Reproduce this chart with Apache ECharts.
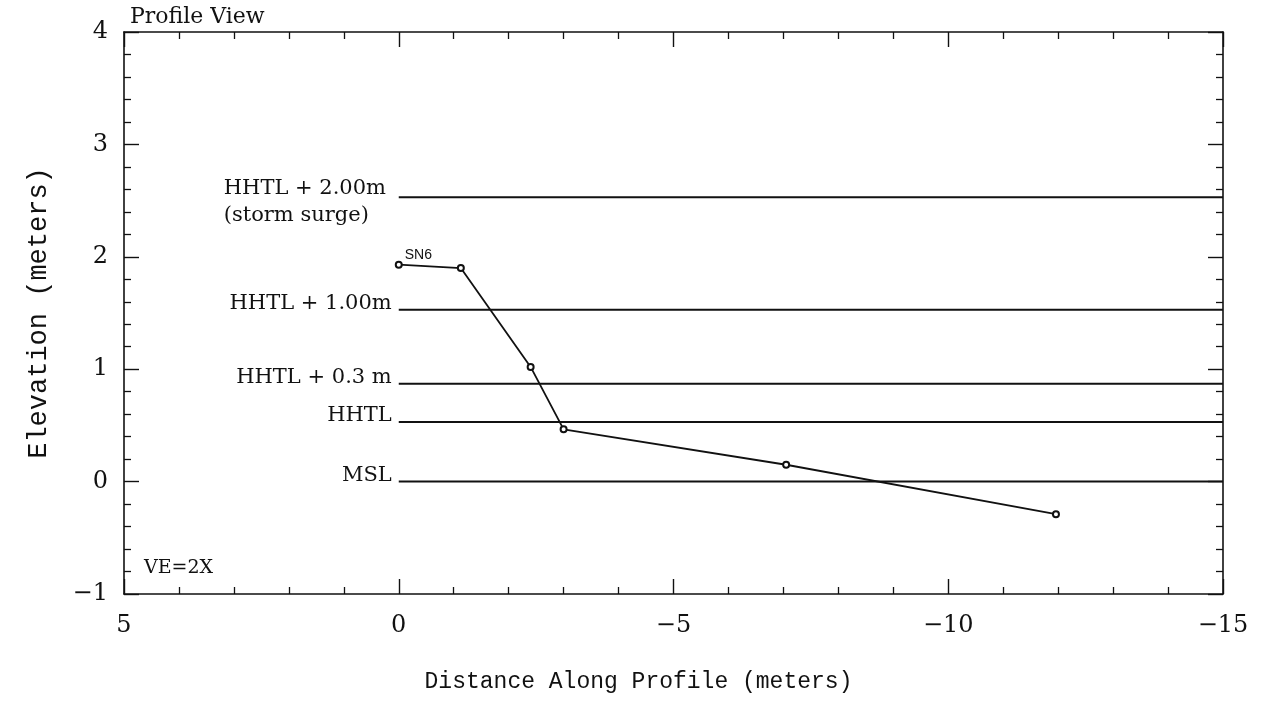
<!DOCTYPE html>
<html>
<head>
<meta charset="utf-8">
<title>Profile View</title>
<script src="https://cdn.jsdelivr.net/npm/echarts@6/dist/echarts.min.js"></script>
<style>
  html, body { margin: 0; padding: 0; background: #fff; }
  #chart { width: 1267px; height: 703px; }
</style>
</head>
<body>
<div id="chart"></div>
<script>
// Surveyed beach profile SN6: distance along profile (m) vs elevation (m)
const distance = [0, -1.13, -2.4, -3.0, -7.05, -11.96];
const elevation = [1.93, 1.90, 1.02, 0.465, 0.15, -0.29];
const profileName = 'SN6';

// Reference water levels drawn as horizontal lines from x = 0 seaward
const levelNames = ['HHTL + 2.00m', 'HHTL + 1.00m', 'HHTL + 0.3 m', 'HHTL', 'MSL'];
const levelNotes = ['(storm surge)', '', '', '', ''];
const levelElev = [2.53, 1.53, 0.87, 0.53, 0];
const levelStart = 0;
const levelEnd = -15;

// Axis extents and tick spacing
const xRange = [-15, 5];
const xStep = 5;
const yRange = [-1, 4];
const yStep = 1;

const serif = 'DejaVu Serif';
const mono = 'Liberation Mono';
const ink = '#111';

function minus(v) { return String(v).replace('-', '\u2212'); }

function frameAxis(extra) {
  return Object.assign({
    axisLine: { show: true, onZero: false, lineStyle: { color: ink, width: 1.6 } },
    axisTick: { show: true, inside: true, length: 15, lineStyle: { color: ink, width: 1.4 } },
    minorTick: { show: true, splitNumber: 5, length: 7, lineStyle: { color: ink, width: 1.3 } },
    splitLine: { show: false },
    minorSplitLine: { show: false }
  }, extra);
}

const series = [];

// Reference level lines
levelNames.forEach((name, i) => {
  series.push({
    type: 'line',
    name: name,
    data: [[levelStart, levelElev[i]], [levelEnd, levelElev[i]]],
    symbol: 'none',
    silent: true,
    lineStyle: { color: ink, width: 2 },
    z: 2
  });
});

// Reference level labels, anchored at the start of each line
const levelLabelData = levelElev.map((y, i) => ({
  value: [levelStart, y], note: levelNotes[i], text: levelNames[i]
}));
series.push({
  type: 'scatter',
  name: 'levelLabels',
  silent: true,
  symbolSize: 0,
  itemStyle: { opacity: 1, color: ink },
  data: levelLabelData,
  label: {
    show: true,
    position: 'left',
    distance: 7,
    color: ink,
    fontFamily: serif,
    fontSize: 21,
    formatter: p => p.data.note
      ? '{a|' + p.data.text + '}\n{a|' + p.data.note + '}'
      : p.data.text,
    rich: {
      a: { width: 168, align: 'left', fontFamily: serif, fontSize: 21, color: ink, lineHeight: 27 }
    }
  },
  labelLayout: p => ({ dy: levelLabelData[p.dataIndex].note ? 5 : -6 }),
  z: 3
});

// Profile line with surveyed points
series.push({
  type: 'line',
  name: profileName,
  data: distance.map((x, i) => [x, elevation[i]]),
  symbol: 'emptyCircle',
  symbolSize: 6,
  showAllSymbol: true,
  itemStyle: { color: ink, borderColor: ink, borderWidth: 1.5 },
  lineStyle: { color: ink, width: 1.8 },
  label: {
    show: true,
    position: 'right',
    distance: 2,
    offset: [0, -10],
    fontFamily: 'Liberation Sans',
    fontSize: 14,
    color: ink,
    formatter: p => p.dataIndex === 0 ? profileName : ''
  },
  z: 4
});

const chart = echarts.init(document.getElementById('chart'));
chart.setOption({
  animation: false,
  backgroundColor: '#fff',
  grid: { left: 124, right: 44, top: 32, bottom: 109 },
  xAxis: [
    frameAxis({
      type: 'value',
      inverse: true,
      min: xRange[0], max: xRange[1], interval: xStep,
      position: 'bottom',
      name: 'Distance Along Profile (meters)',
      nameLocation: 'middle',
      nameGap: 76,
      nameTextStyle: { fontFamily: mono, fontSize: 23, color: ink, padding: [0, 70, 0, 0] },
      axisLabel: { margin: 20, fontFamily: serif, fontSize: 24, color: ink, formatter: minus }
    }),
    frameAxis({
      type: 'value',
      inverse: true,
      min: xRange[0], max: xRange[1], interval: xStep,
      position: 'top',
      axisLabel: { show: false }
    })
  ],
  yAxis: [
    frameAxis({
      type: 'value',
      min: yRange[0], max: yRange[1], interval: yStep,
      position: 'left',
      name: 'Elevation (meters)',
      nameLocation: 'middle',
      nameGap: 72,
      nameTextStyle: { fontFamily: mono, fontSize: 27, color: ink },
      axisLabel: { margin: 16, fontFamily: serif, fontSize: 24, color: ink, formatter: minus }
    }),
    frameAxis({
      type: 'value',
      min: yRange[0], max: yRange[1], interval: yStep,
      position: 'right',
      axisLabel: { show: false }
    })
  ],
  graphic: [
    {
      type: 'text', left: 130, top: 6,
      style: { text: 'Profile View', fontFamily: serif, fontSize: 22, fill: ink }
    },
    {
      type: 'text', left: 144, top: 559,
      style: { text: 'VE=2X', fontFamily: serif, fontSize: 19, fill: ink }
    }
  ],
  series: series
});
</script>
</body>
</html>
